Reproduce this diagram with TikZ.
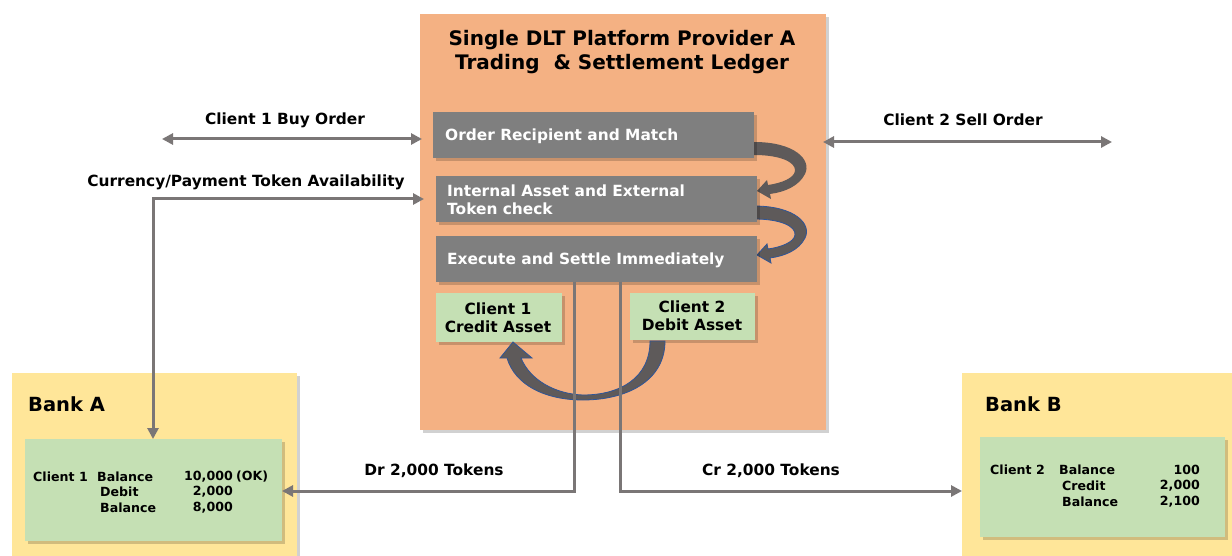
\documentclass[tikz,border=0pt]{standalone}
\usepackage{fontspec}
\setmainfont{DejaVu Sans}
\usetikzlibrary{arrows.meta,calc}
\definecolor{orangebg}{HTML}{F4B183}
\definecolor{graybox}{HTML}{7F7F7F}
\definecolor{greenbox}{HTML}{C5E0B4}
\definecolor{yellowbg}{HTML}{FFE699}
\definecolor{linegray}{HTML}{7A7676}
\definecolor{darkband}{HTML}{5E5A5A}
\definecolor{blueline}{HTML}{2F5597}
\tikzset{
  shd/.style={preaction={fill=black,opacity=0.18,transform canvas={xshift=3pt,yshift=-3pt}}},
  panel/.style={draw=none,inner sep=0pt,outer sep=0pt,shd},
  graystep/.style={panel,fill=graybox},
  greenstep/.style={panel,fill=greenbox},
  txt/.style={font=\bfseries\fontsize{15.4}{18}\selectfont,inner sep=0pt},
  wtxt/.style={txt,text=white,align=left,anchor=west},
  smalltxt/.style={font=\bfseries\fontsize{12.6}{14}\selectfont,inner sep=0pt},
  conn/.style={draw=linegray,line width=3pt,{Triangle[length=11pt,width=11pt]}-{Triangle[length=11pt,width=11pt]}},
  connend/.style={draw=linegray,line width=3pt,-{Triangle[length=11pt,width=11pt]}},
}
\begin{document}
\begin{tikzpicture}[x=1pt,y=-1pt]
\useasboundingbox (0,0) rectangle (1232,556);
\fill[white] (0,0) rectangle (1232,556);

% Banks
\node[panel,fill=yellowbg,minimum width=285pt,minimum height=190pt,anchor=north west] (bankA) at (12,373) {};
\node[panel,fill=yellowbg,minimum width=275pt,minimum height=190pt,anchor=north west] (bankB) at (962,373) {};
\node[font=\bfseries\fontsize{19.5}{22}\selectfont,anchor=west,inner sep=0pt] (bankAt) at (28,404) {Bank A};
\node[font=\bfseries\fontsize{19.5}{22}\selectfont,anchor=west,inner sep=0pt] (bankBt) at (985,404) {Bank B};
\node[greenstep,minimum width=257pt,minimum height=102pt,anchor=north west] (ga) at (25,439) {};
\node[greenstep,minimum width=245pt,minimum height=100pt,anchor=north west] (gb) at (980,437) {};

% Bank A content
\node[smalltxt,anchor=west] (a11) at (33,477) {Client 1};
\node[smalltxt,anchor=west] (a12) at (97,477) {Balance};
\node[smalltxt,anchor=east] (a13) at (233,477) {10,000};
\node[smalltxt,anchor=west] (a14) at (236,477) {(OK)};
\node[smalltxt,anchor=west] (a22) at (100,492) {Debit};
\node[smalltxt,anchor=east] (a23) at (233,492) {2,000};
\node[smalltxt,anchor=west] (a32) at (100,508) {Balance};
\node[smalltxt,anchor=east] (a33) at (233,508) {8,000};

% Bank B content
\node[smalltxt,anchor=west] (b11) at (990,470) {Client 2};
\node[smalltxt,anchor=west] (b12) at (1059,470) {Balance};
\node[smalltxt,anchor=east] (b13) at (1200,470) {100};
\node[smalltxt,anchor=west] (b22) at (1062,486) {Credit};
\node[smalltxt,anchor=east] (b23) at (1200,486) {2,000};
\node[smalltxt,anchor=west] (b32) at (1062,502) {Balance};
\node[smalltxt,anchor=east] (b33) at (1200,502) {2,100};

% Platform
\node[panel,fill=orangebg,minimum width=406pt,minimum height=416pt,anchor=north west] (plat) at (420,14) {};
\node[font=\bfseries\fontsize{20}{24}\selectfont,align=center,inner sep=0pt] (title) at (622,52) {Single DLT Platform Provider A\\Trading\ \ \& Settlement Ledger};

% curved block arrows (drawn before gray boxes)
\fill[darkband] (754,142) .. controls (795,142) and (812,160) .. (805,174) .. controls (799,186) and (785,192) .. (770,194) -- (771,199) -- (757,191) -- (767,180) -- (768,185) .. controls (782,183) and (794,178) .. (795,171) .. controls (796,162) and (780,155) .. (754,155) -- cycle;
\filldraw[fill=darkband,draw=blueline,line width=0.8pt] (754,206) .. controls (795,206) and (812,224) .. (805,238) .. controls (799,250) and (785,256) .. (770,258) -- (771,263) -- (757,255) -- (767,244) -- (768,249) .. controls (782,247) and (794,242) .. (795,235) .. controls (796,226) and (780,219) .. (754,219) -- cycle;

\node[graystep,minimum width=321pt,minimum height=46pt,anchor=north west] (s1) at (433,112) {};
\node[graystep,minimum width=321pt,minimum height=46pt,anchor=north west] (s2) at (436,176) {};
\node[graystep,minimum width=321pt,minimum height=46pt,anchor=north west] (s3) at (436,236) {};
\node[wtxt] (s1t) at (445,136) {Order Recipient and Match};
\node[wtxt] (s2t) at (447,200) {Internal Asset and External\\Token check};
\node[wtxt] (s3t) at (447,260) {Execute and Settle Immediately};

\node[greenstep,minimum width=126pt,minimum height=49pt,anchor=north west] (c1) at (436,293) {};
\node[greenstep,minimum width=125pt,minimum height=47pt,anchor=north west] (c2) at (630,293) {};
\node[txt,align=center] (c1t) at (498,318) {Client 1\\Credit Asset};
\node[txt,align=center] (c2t) at (692,316) {Client 2\\Debit Asset};

% U arrow
\filldraw[fill=darkband,draw=blueline,line width=0.8pt] (665,341) .. controls (665,382) and (625,400) .. (583,400) .. controls (545,400) and (515,385) .. (507,358) -- (500,358) -- (513,342) -- (532,358) -- (521,358) .. controls (530,380) and (555,394) .. (583,395) .. controls (620,395) and (650,378) .. (650,341) -- cycle;

% connectors
\coordinate (buyL) at (162,139);
\coordinate (buyR) at (422,139);
\coordinate (sellL) at (823,142);
\coordinate (sellR) at (1112,142);
\coordinate (curR) at (424,199);
\coordinate (drTop) at (574,282);
\coordinate (crTop) at (620,282);
\coordinate (crEnd) at (962,491);
\draw[conn] (buyL) -- (buyR);
\draw[conn] (sellL) -- (sellR);
\draw[conn] (curR) -- (153,199) -- (ga.north -| 153,0);
\draw[connend] (drTop) |- (ga.east |- 0,491);
\draw[connend] (crTop) |- (crEnd);

% labels
\node[txt] (lbuy) at (285,120) {Client 1 Buy Order};
\node[txt] (lsell) at (963,120) {Client 2 Sell Order};
\node[txt] (lcur) at (246,182) {Currency/Payment Token Availability};
\node[txt] (ldr) at (434,471) {Dr 2,000 Tokens};
\node[txt] (lcr) at (771,471) {Cr 2,000 Tokens};
\end{tikzpicture}
\end{document}
